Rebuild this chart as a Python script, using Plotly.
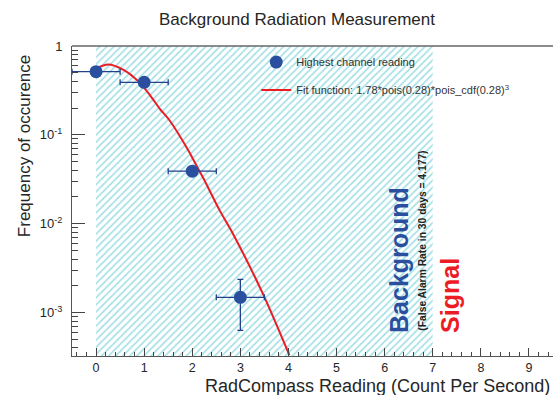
import plotly.graph_objects as go

# ---- data ----
reading_x = [0, 1, 2, 3]
reading_y = [0.514, 0.39, 0.039, 0.00148]
reading_ex = [0.5, 0.5, 0.5, 0.5]
reading_ey_plus = [0.02, 0.02, 0.004, 0.00088]
reading_ey_minus = [0.02, 0.02, 0.004, 0.00085]

fit_x = [0.0, 0.25, 0.57, 0.88, 1.12, 1.33, 1.53, 1.91, 2.15, 2.25, 2.57, 2.84, 3.46, 4.02]
fit_y = [0.56, 0.62, 0.54, 0.40, 0.28, 0.195, 0.145, 0.068, 0.039, 0.031, 0.0141, 0.0078, 0.00166, 0.00033]

band_x = [0, 7]            # background region (count per second)
y_lo, y_hi = 10 ** -3.49, 1.0
x_tick_vals = list(range(0, 10))
y_tick_vals = [1e-3, 1e-2, 1e-1, 1]
y_tick_text = ["10<sup>-3</sup>", "10<sup>-2</sup>", "10<sup>-1</sup>", "1"]

FONT = "Liberation Sans, Arial, Helvetica, sans-serif"
TXT = "#262626"
BLUE = "#2b4f9f"
RED = "#ec1c24"

fig = go.Figure()

# hatched background band
fig.add_trace(go.Scatter(
    x=[band_x[0], band_x[1], band_x[1], band_x[0], band_x[0]],
    y=[y_lo, y_lo, y_hi, y_hi, y_lo],
    mode="lines", fill="toself",
    line=dict(width=0, color="rgba(0,0,0,0)"),
    fillcolor="rgba(0,0,0,0)",
    fillpattern=dict(shape="/", fgcolor="#45c0cc", bgcolor="rgba(0,0,0,0)",
                     size=5, solidity=0.33),
    showlegend=False, hoverinfo="skip",
))

fig.add_trace(go.Scatter(
    x=fit_x, y=fit_y, mode="lines",
    line=dict(color=RED, width=2, shape="spline", smoothing=0.8),
    name="Fit function: 1.78*pois(0.28)*pois_cdf(0.28)<sup>3</sup>",
    legend="legend2",
))

fig.add_trace(go.Scatter(
    x=reading_x, y=reading_y, mode="markers",
    marker=dict(color=BLUE, size=13),
    error_x=dict(type="data", array=reading_ex, color="#22408c", thickness=1.3, width=3),
    error_y=dict(type="data", array=reading_ey_plus, arrayminus=reading_ey_minus,
                 symmetric=False, color="#22408c", thickness=1.3, width=3),
    name="Highest channel reading",
    legend="legend",
))

fig.update_layout(
    width=553, height=395,
    margin=dict(l=72, r=0, t=46, b=39),
    paper_bgcolor="white", plot_bgcolor="white",
    font=dict(family=FONT, color=TXT),
    legend=dict(x=0.383, y=0.948, xanchor="left", yanchor="middle",
                bgcolor="rgba(0,0,0,0)", font=dict(size=11, color="#333")),
    legend2=dict(x=0.383, y=0.858, xanchor="left", yanchor="middle",
                 bgcolor="rgba(0,0,0,0)", font=dict(size=11, color="#333")),
    xaxis=dict(range=[-0.5, 9.5], tickvals=x_tick_vals, ticks="inside", ticklen=8,
               tickcolor="#444", showline=True, linecolor="#555", linewidth=1,
               mirror=False, showgrid=False, zeroline=False,
               tickfont=dict(size=12.5, color=TXT),
               minor=dict(dtick=0.2, ticks="inside", ticklen=4, tickcolor="#444", showgrid=False)),
    yaxis=dict(type="log", range=[-3.49, 0.0], tickvals=y_tick_vals, ticktext=y_tick_text,
               ticks="inside", ticklen=13, tickcolor="#444", showline=True,
               linecolor="#555", linewidth=1, showgrid=False, zeroline=False,
               tickfont=dict(size=13, color=TXT), ticklabelstandoff=6,
               minor=dict(dtick="D1", ticks="inside", ticklen=6, tickcolor="#444", showgrid=False)),
    shapes=[dict(type="line", xref="paper", yref="paper", x0=0, x1=1, y0=1, y1=1,
                 line=dict(color="#666", width=1.6))],
    annotations=[
        dict(text="Background Radiation Measurement", xref="paper", yref="paper",
             x=0.468, y=1.084, xanchor="center", yanchor="middle", showarrow=False,
             font=dict(size=17, color=TXT)),
        dict(text="RadCompass Reading (Count Per Second)", xref="paper", yref="paper",
             x=0.998, y=-0.097, xanchor="right", yanchor="middle", showarrow=False,
             font=dict(size=18, color=TXT)),
        dict(text="Frequency of occurence", xref="paper", yref="paper",
             x=-0.0998, y=0.677, xanchor="center", yanchor="middle", showarrow=False,
             textangle=-90, font=dict(size=17, color=TXT)),
        dict(text="<b>Background</b>", xref="paper", yref="paper",
             x=0.680, y=0.310, xanchor="center", yanchor="middle", showarrow=False,
             textangle=-90, font=dict(size=25, color=BLUE)),
        dict(text="<b>(False Alarm Rate in 30 days = 4.177)</b>", xref="paper", yref="paper",
             x=0.729, y=0.371, xanchor="center", yanchor="middle", showarrow=False,
             textangle=-90, font=dict(size=10.3, color="#222")),
        dict(text="<b>Signal</b>", xref="paper", yref="paper",
             x=0.786, y=0.194, xanchor="center", yanchor="middle", showarrow=False,
             textangle=-90, font=dict(size=25, color=RED)),
    ],
)

fig.write_html("out.html")
